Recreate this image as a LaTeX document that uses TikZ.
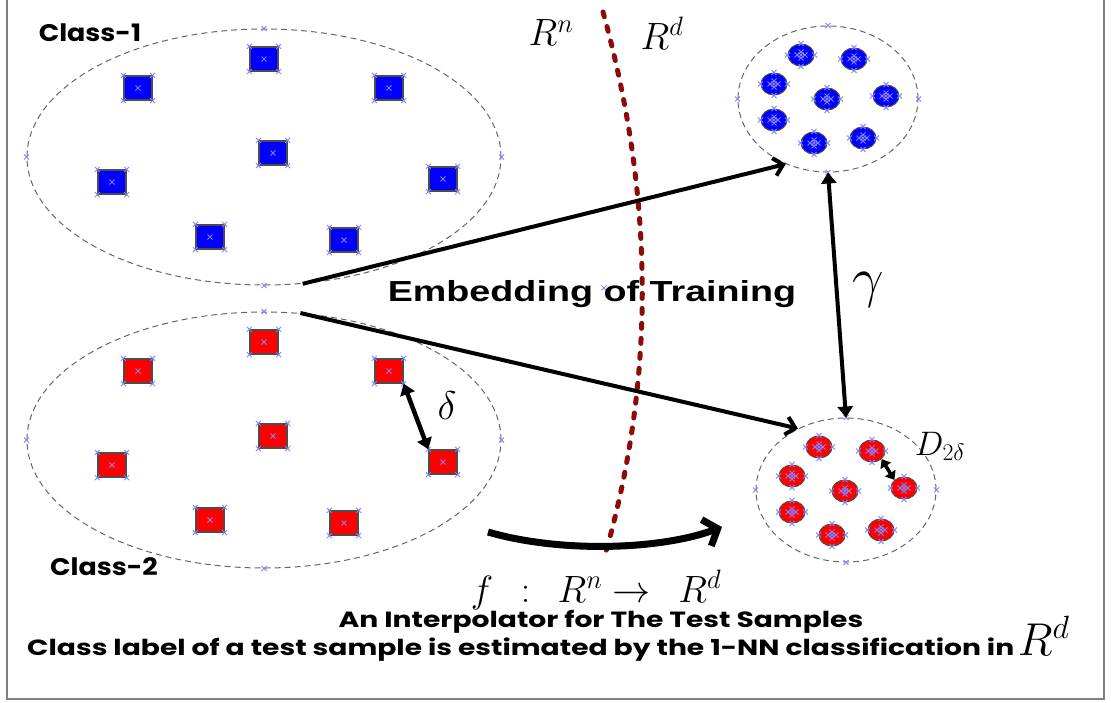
\RequirePackage{fix-cm}
\documentclass[tikz,border=0pt]{standalone}
\usepackage{fontspec}
\usetikzlibrary{shapes.geometric, arrows.meta, positioning, calc}
\newfontfamily\gothic[FakeStretch=1.28]{Poppins}
\newfontfamily\gothiclbl[FakeStretch=1.12]{Poppins}
\newfontfamily\embfont[FakeStretch=1.3]{Liberation Sans}
\definecolor{ptBlue}{RGB}{0,0,255}
\definecolor{ptRed}{RGB}{255,0,0}
\definecolor{markBlue}{RGB}{130,130,255}
\definecolor{sepRed}{RGB}{139,10,10}
\tikzset{
    x=1pt, y=-1pt,
    % Shapes
    cluster/.style={ellipse, draw=gray!80!black, dash pattern=on 6pt off 4pt, line width=1pt, inner sep=0pt},
    sq/.style={rectangle, draw=gray!60!black, line width=1.3pt, minimum width=28pt, minimum height=24pt, inner sep=0pt},
    dot/.style={ellipse, draw=black!70, line width=1pt, minimum width=26pt, minimum height=22pt, inner sep=0pt},
    pics/xm/.style={code={\draw[markBlue, line width=0.9pt] (-2.5,-2.5) -- (2.5,2.5) (-2.5,2.5) -- (2.5,-2.5);}},
    % Flow & Labels
    embed/.style={line width=4pt, -{Straight Barb[length=9pt, width=18pt]}},
    dist/.style={line width=4.5pt, {Triangle[length=11pt, width=15pt]}-{Triangle[length=11pt, width=15pt]}},
    sep/.style={draw=sepRed, line width=5pt, line cap=round, dash pattern=on 5pt off 10pt},
    cls/.style={font=\gothiclbl\bfseries\fontsize{24}{24}\selectfont, inner sep=0pt},
    mlbl/.style={inner sep=0pt, font=\fontsize{38}{38}\selectfont}
}

\begin{document}
\begin{tikzpicture}
\useasboundingbox (0,0) rectangle (1111,702);

% Frame
\draw[gray, line width=1.5pt] (7,-5) -- (7,699) -- (1104,699) -- (1104,-5);

% Class regions in R^n
\node[cluster, minimum width=474pt, minimum height=256pt] (c1) at (264,157) {};
\node[cluster, minimum width=474pt, minimum height=256pt] (c2) at (264,440) {};
% Embedded classes in R^d
\node[cluster, minimum width=180pt, minimum height=146pt] (t1) at (828,99) {};
\node[cluster, minimum width=180pt, minimum height=144pt] (t2) at (846,490) {};
\foreach \n in {c1,c2,t1,t2}
    \foreach \a in {north,south,east,west}
        \pic at (\n.\a) {xm};

% Training samples
\foreach \x/\y [count=\i] in {264/59, 138/88, 389/88, 273/153, 112/182, 443/179, 210/237, 344/240} {
    \node[sq, fill=ptBlue] (b\i) at (\x,\y) {};
    \node[sq, fill=ptRed] (r\i) at (\x,\y+283) {};
    \foreach \a in {north west,north east,south west,south east,center} {
        \pic at (b\i.\a) {xm};
        \pic at (r\i.\a) {xm};
    }
}

% Embedded samples
\foreach \x/\y [count=\i] in {801/55, 854/59, 774/84, 827/99, 886/96, 774/120, 814/143, 863/138} {
    \node[dot, fill=ptBlue] (u\i) at (\x,\y) {};
    \node[dot, fill=ptRed] (v\i) at (\x+18,\y+392) {};
    \foreach \n in {u\i,v\i} {
        \foreach \a in {north,south,east,west,center}
            \pic at (\n.\a) {xm};
        \pic at ($(\n.center)+(-4,0)$) {xm};
        \pic at ($(\n.center)+(4,0)$) {xm};
        \pic at ($(\n.center)+(0,-3)$) {xm};
        \pic at ($(\n.center)+(0,3)$) {xm};
    }
}
\pic at (604,288) {xm};

% Separator between the spaces
\draw[sep] (603,12) .. controls (655,200) and (655,380) .. (605,555);

% Labels
\node[cls] (lab1) at (90,33) {Class-1};
\node[cls] (lab2) at (104,567) {Class-2};
\node[mlbl] (rn) at (551,33) {$R^n$};
\node[mlbl] (rd) at (662,33) {$R^d$};
\node[inner sep=0pt, font=\embfont\bfseries\fontsize{29}{29}\selectfont] (emb) at (592,294) {Embedding of Training};
\node[inner sep=0pt, font=\fontsize{56}{56}\selectfont] (gam) at (868,290) {$\gamma$};
\node[inner sep=0pt, font=\fontsize{40}{40}\selectfont] (del) at (447,406) {$\delta$};
\node[inner sep=0pt, font=\fontsize{34}{34}\selectfont] (dd) at (940,446) {$D_{2\delta}$};

% Connectors
\draw[embed] (c1.-73) -- (t1.-123);
\draw[embed] (c2.74) -- (t2.128);
\draw[dist, line width=4pt] (t1.south) -- (t2.north);
\draw[dist] (r3.south east) -- (r6.north west);
\draw[dist, line width=3.5pt, {Triangle[length=8pt, width=12pt]}-{Triangle[length=8pt, width=12pt]}] (v2.-40) -- (v5.140);

% Interpolator
\coordinate (fa) at (488,532);
\coordinate (fb) at (722,527);
\draw[line width=7pt, -{Straight Barb[length=12pt, width=28pt]}] (fa) .. controls (560,553) and (660,550) .. (fb);
\node[mlbl] (fmap) at (596,590) {$f\;\,:\;\, R^n \to\;\, R^d$};
\node[inner sep=0pt, font=\gothic\bfseries\fontsize{22}{22}\selectfont] (interp) at (601,622) {An Interpolator for The Test Samples};
\node[inner sep=0pt, anchor=base west, font=\gothic\bfseries\fontsize{22}{22}\selectfont] (note) at (27,655) {Class label of a test sample is estimated by the 1-NN classification in\,{\fontsize{46}{46}\selectfont$R^d$}};

\end{tikzpicture}
\end{document}
